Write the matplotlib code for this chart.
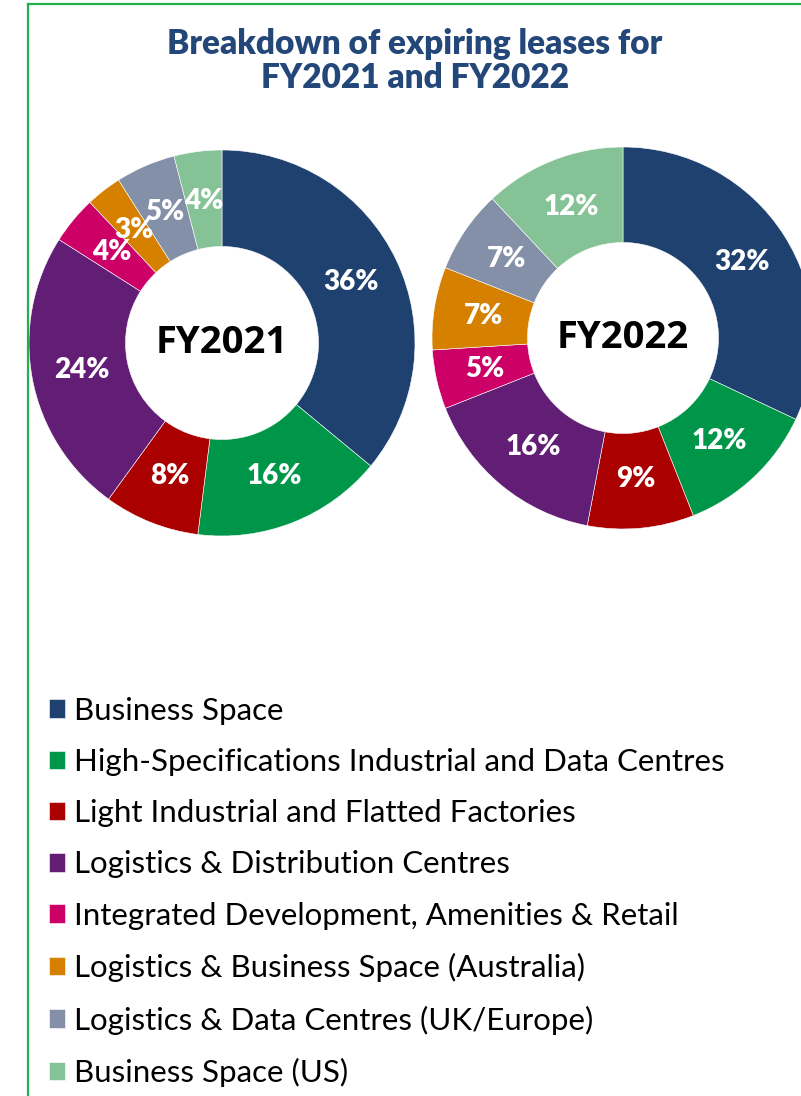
import matplotlib.pyplot as plt
from matplotlib.lines import Line2D

# Data
categories = [
    'Business Space',
    'High-Specifications Industrial and Data Centres',
    'Light Industrial and Flatted Factories',
    'Logistics & Distribution Centres',
    'Integrated Development, Amenities & Retail',
    'Logistics & Business Space (Australia)',
    'Logistics & Data Centres (UK/Europe)',
    'Business Space (US)',
]
fy2021 = [36, 16, 8, 24, 4, 3, 5, 4]
fy2022 = [32, 12, 9, 16, 5, 7, 7, 12]
colors = ['#1E4170', '#00964A', '#AA0000', '#611E74',
          '#CC0066', '#D68000', '#8490A8', '#85C396']

W, H = 801, 1096
fig = plt.figure(figsize=(W / 100, H / 100), dpi=100)
fig.patch.set_facecolor('white')

# Green frame (left + top, runs off the right/bottom edge)
frame_col = '#21B04B'
fig.add_artist(Line2D([28 / W, 28 / W], [0, 1 - 4 / H], color=frame_col,
                      lw=1.6, transform=fig.transFigure))
fig.add_artist(Line2D([28 / W, 1], [1 - 4 / H, 1 - 4 / H], color=frame_col,
                      lw=1.6, transform=fig.transFigure))

# Title
fig.text(415 / W, 1 - 44 / H, 'Breakdown of expiring leases for',
         ha='center', va='center', fontsize=24, fontweight='heavy',
         color='#24477A', family='Lato')
fig.text(415 / W, 1 - 78 / H, 'FY2021 and FY2022',
         ha='center', va='center', fontsize=24, fontweight='heavy',
         color='#24477A', family='Lato')


def donut(cx, cy, r, values, centre_label):
    ax = fig.add_axes([(cx - r) / W, 1 - (cy + r) / H, 2 * r / W, 2 * r / H])
    wedges, _, autotexts = ax.pie(
        values, colors=colors, startangle=90, counterclock=False,
        radius=1, pctdistance=0.74,
        autopct=lambda p: f'{p:.0f}%',
        wedgeprops=dict(width=0.5, edgecolor='white', linewidth=0.4))
    for t in autotexts:
        t.set_color('white')
        t.set_fontsize(20)
        t.set_fontweight('heavy')
        t.set_family('Lato')
    ax.text(0, 0, centre_label, ha='center', va='center', fontsize=27.5,
            fontweight='bold', color='black', family='Open Sans')
    ax.set_xlim(-1, 1)
    ax.set_ylim(-1, 1)
    ax.axis('off')
    return wedges


wedges = donut(222, 343, 193, fy2021, 'FY2021')
donut(623, 338, 191, fy2022, 'FY2022')

fig.legend(wedges, categories, loc='upper left',
           bbox_to_anchor=(33 / W, 1 - 681 / H), frameon=False,
           prop=dict(family='Lato', size=22.5),
           handlelength=0.53, handleheight=0.53, handletextpad=0.28,
           labelspacing=0.745, borderpad=0)

fig.savefig('out.png', dpi=100)
